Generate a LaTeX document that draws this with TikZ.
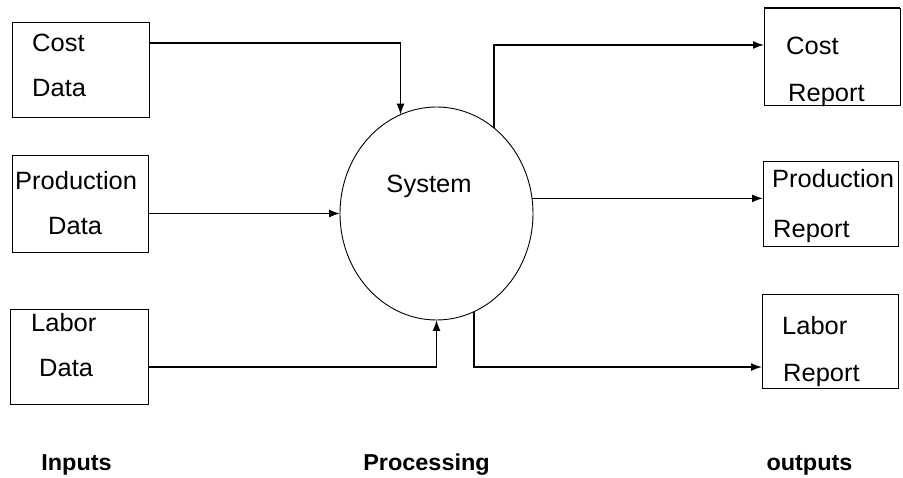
\documentclass[tikz,border=0pt]{standalone}
\usepackage{fontspec}
\setmainfont{Liberation Sans}[FakeStretch=1.02]
\usetikzlibrary{arrows.meta,shapes.geometric,calc}

\begin{document}
\begin{tikzpicture}[x=1pt,y=-1pt,
  box/.style={draw,line width=0.9pt,rectangle,inner sep=0pt,outer sep=0pt,anchor=north west},
  proc/.style={draw,line width=0.9pt,ellipse,inner sep=0pt,outer sep=0pt,
    minimum width=193pt,minimum height=213pt},
  word/.style={anchor=base west,inner sep=0pt,font=\fontsize{25}{30}\selectfont},
  heading/.style={anchor=base,inner sep=0pt,font=\fontsize{23}{28}\selectfont\bfseries},
  flow/.style={line width=1.5pt,-{Latex[length=11pt,width=8pt]}}
]
\useasboundingbox (0,0) rectangle (903,478);

% input stores
\node[box,minimum width=137pt,minimum height=95pt] (costdata) at (12,22) {};
\node[box,minimum width=136pt,minimum height=97pt] (proddata) at (12,155) {};
\node[box,minimum width=138pt,minimum height=95pt] (labdata) at (10,309) {};

% output reports
\node[box,minimum width=136pt,minimum height=97pt] (costrep) at (764,8) {};
\draw[line width=2.2pt] (costrep.north west) -- (costrep.north east);
\node[box,minimum width=135pt,minimum height=85pt] (prodrep) at (763,161) {};
\node[box,minimum width=136pt,minimum height=94pt] (labrep) at (762,294) {};

% the processing system
\node[proc] (sys) at (436.5,213.5) {};
\node[anchor=base,inner sep=0pt,font=\fontsize{25}{30}\selectfont] (systxt) at (429,193) {System};

% box texts
\node[word] (t1) at (32,52) {Cost};
\node[word] (t2) at (32,97) {Data};
\node[word] (t3) at (15,190) {Production};
\node[word] (t4) at (48,235) {Data};
\node[word] (t5) at (31,332) {Labor};
\node[word] (t6) at (39,377) {Data};

\node[word] (t7) at (786,55) {Cost};
\node[word] (t8) at (788,102) {Report};
\node[word] (t9) at (772,188) {Production};
\node[word] (t10) at (773,238) {Report};
\node[word] (t11) at (782,335) {Labor};
\node[word] (t12) at (783,382) {Report};

% column headings
\node[heading] (hin) at (76.5,470) {Inputs};
\node[heading] (hproc) at (426.5,470) {Processing};
\node[heading] (hout) at (809.5,470) {outputs};

% connection points on the box sides
\coordinate (cdout) at ($(costdata.north east)!0.221!(costdata.south east)$);
\coordinate (ldout) at ($(labdata.north east)!0.61!(labdata.south east)$);
\coordinate (crin) at ($(costrep.north west)!0.381!(costrep.south west)$);
\coordinate (lrin) at ($(labrep.north west)!0.777!(labrep.south west)$);

% inputs into the system
\draw[flow] (cdout) -| (sys.110.9);
\draw[flow] (proddata.east |- sys.west) -- (sys.west);
\draw[flow] (ldout) -| (sys.south);

% outputs from the system
\draw[flow] (sys.56.1) |- (crin);
\draw[flow] (sys.9.2) -- (prodrep.west |- sys.9.2);
\draw[flow] (sys.-69.1) |- (lrin);
\end{tikzpicture}
\end{document}
